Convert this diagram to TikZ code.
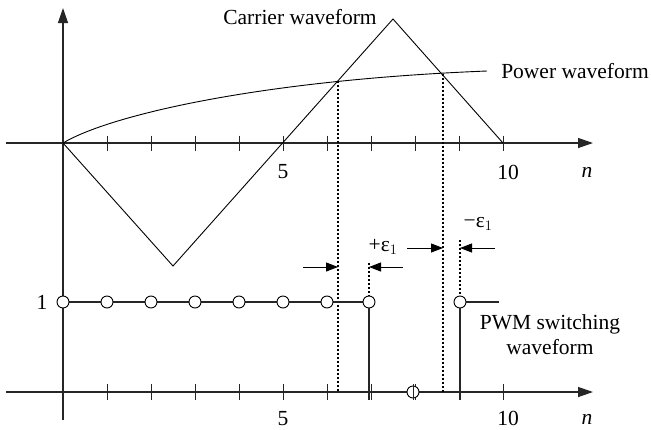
\documentclass[tikz,border=0pt]{standalone}
\usepackage{fontspec}
\setmainfont{Liberation Serif}
\usetikzlibrary{arrows.meta}
\begin{document}
\begin{tikzpicture}[x=1pt,y=-1pt,
  axis/.style={line width=1.3pt, black!85},
  axhead/.style={-{Triangle[length=15pt,width=10pt]}},
  wave/.style={line width=0.9pt},
  tickmark/.style={line width=1pt, black!85},
  guide/.style={dash pattern=on 2pt off 2pt, line width=1.1pt},
  lbl/.style={font=\fontsize{21.5}{24}\selectfont, inner sep=0pt},
  pwmdot/.style={circle, draw, line width=0.9pt, fill=white, minimum size=12pt, inner sep=0pt},
  pwmline/.style={line width=1.1pt, black!85},
  gaparrow/.style={-{Triangle[length=12pt,width=9pt]}, line width=1pt}
]
\useasboundingbox (0,0) rectangle (651,429);

% ---------- coordinates ----------
\coordinate (O1) at (63,143);
\coordinate (X1L) at (6,143);
\coordinate (X1R) at (593,143);
\coordinate (YT) at (63,8);
\coordinate (YB) at (63,420);
\coordinate (X2L) at (6,392);
\coordinate (X2R) at (593,392);
\coordinate (Cv) at (173,266);
\coordinate (Cp) at (393,19);
\coordinate (Ce) at (503,143);
\coordinate (Pe) at (487,71);
\coordinate (I1) at (338,80.5);
\coordinate (I2) at (443,73.5);
\coordinate (I1b) at (338,392);
\coordinate (I2b) at (443,392);

% ---------- axes ----------
\draw[axis,axhead] (YB) -- (YT);
\draw[axis,axhead] (X1L) -- (X1R);
\draw[axis,axhead] (X2L) -- (X2R);
\foreach \i in {1,...,10} \draw[tickmark] ({63+44*\i},135.5) -- ++(0,15);
\foreach \i in {1,...,10} \draw[tickmark] ({63+44*\i},384) -- ++(0,16);
\draw[line width=2.2pt, black!85] (63,384) -- (63,400);

% ---------- carrier & power ----------
\draw[wave] (O1) -- (Cv) -- (Cp) -- (Ce);
\draw[wave] (O1) .. controls (110,115) and (260,80) .. (Pe);

% ---------- dotted guides ----------
\draw[guide] (I1) -- (I1b);
\draw[guide] (I2) -- (I2b);

% ---------- PWM waveform ----------
\draw[pwmline] (63,302) -- (369,302);
\draw[pwmline] (460,302) -- (499,302);
\foreach \i/\nm in {0/p0,1/p1,2/p2,3/p3,4/p4,5/p5,6/p6}
  \node[pwmdot] (\nm) at ({63+44*\i},302) {};
\node[pwmdot] (p7) at (369,302) {};
\node[pwmdot] (p9) at (460,302) {};
\coordinate (p7b) at (369,400);
\coordinate (p9b) at (460,400);
\draw[pwmline] (p7.south) -- (p7b);
\draw[pwmline] (p9.south) -- (p9b);
\node[pwmdot] (p8) at (413,392) {};
\draw[tickmark] (413,384) -- (413,400);

% dotted marks above switching points
\coordinate (d7) at (369,263);
\coordinate (d9) at (460,240);
\draw[guide] (d7) -- (p7.north);
\draw[guide] (d9) -- (p9.north);

% ---------- epsilon arrows ----------
\coordinate (a1s) at (303,267);
\coordinate (a1t) at (338,267);
\coordinate (a2s) at (403,267);
\coordinate (a2t) at (369,267);
\coordinate (b1s) at (407,248);
\coordinate (b1t) at (443,248);
\coordinate (b2s) at (495,248);
\coordinate (b2t) at (460,248);
\draw[gaparrow] (a1s) -- (a1t);
\draw[gaparrow] (a2s) -- (a2t);
\draw[gaparrow] (b1s) -- (b1t);
\draw[gaparrow] (b2s) -- (b2t);

% ---------- labels ----------
\node[lbl] (carrier) at (300,17) {Carrier waveform};
\node[lbl] (power) at (575,71) {Power waveform};
\node[lbl] (five1) at (283,172) {5};
\node[lbl] (ten1) at (508,172) {10};
\node[lbl] (n1) at (587,172) {\itshape n};
\node[lbl] (one) at (42,302) {1};
\node[lbl] (five2) at (283,418.5) {5};
\node[lbl] (ten2) at (508,418.5) {10};
\node[lbl] (n2) at (587,419) {\itshape n};
\node[lbl] (pe) at (383,247) {+ε$_1$};
\node[lbl] (me) at (478,224) {−ε$_1$};
\node[lbl, align=center, font=\fontsize{21.5}{25}\selectfont] (pwm) at (550,335) {PWM switching\\waveform};
\end{tikzpicture}
\end{document}
